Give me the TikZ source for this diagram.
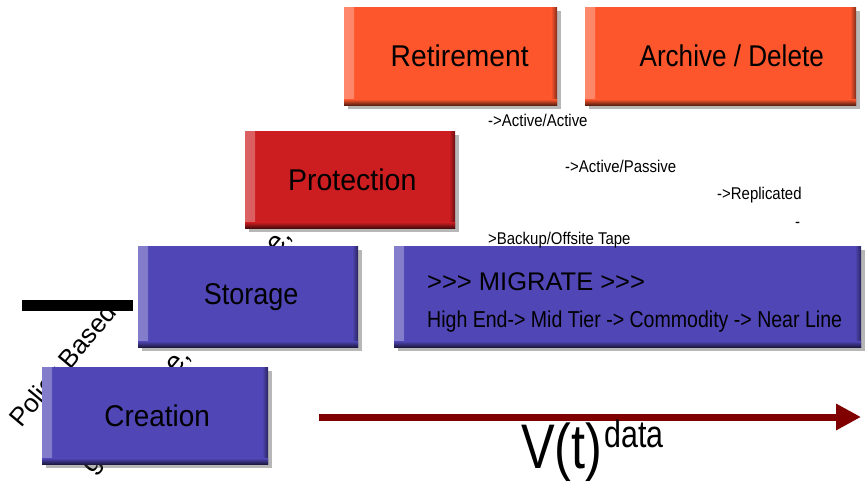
\documentclass[tikz,border=0pt]{standalone}
\usepackage{fontspec}
\setmainfont{Liberation Sans}[Ligatures=TeXOff]
\usetikzlibrary{arrows.meta,shadows}
\definecolor{orng}{HTML}{FD562D}
\definecolor{protred}{HTML}{CC1D20}
\definecolor{blu}{HTML}{5046B5}
\definecolor{arrred}{HTML}{800000}
\newcommand\cnd[2][0.9]{\scalebox{#1}[1]{#2}}
\begin{document}
\begin{tikzpicture}[x=1pt,y=-1pt,
  box/.style={fill=#1, anchor=north west, inner sep=0pt, draw=none,
    drop shadow={shadow xshift=4pt, shadow yshift=-4pt, opacity=0.4, fill=black!70},
    path picture={
      \shade[left color=#1!70!white, right color=#1]
        (path picture bounding box.north west) rectangle ([xshift=10pt]path picture bounding box.south west);
      \shade[left color=#1, right color=#1!50!black]
        ([xshift=-6pt]path picture bounding box.north east) rectangle (path picture bounding box.south east);
      \shade[top color=#1, bottom color=#1!35!black]
        ([yshift=6pt]path picture bounding box.south west) rectangle (path picture bounding box.south east);
    },
    font=\fontsize{30}{36}\selectfont},
  note/.style={anchor=base west, inner sep=0pt, font=\fontsize{17}{20}\selectfont},
  diag/.style={anchor=base west, inner sep=0pt, rotate=50, font=\fontsize{26}{30}\selectfont}
]
\useasboundingbox (0,0) rectangle (866,484);

% diagonal text (partly hidden behind the boxes)
\node[diag] (pol) at (21,429) {Policy Based};
\node[diag, font=\fontsize{28}{32}\selectfont] (gov) at (92,475) {governance, compliance,};

% black bar
\node[fill=black, anchor=north west, inner sep=0pt, minimum width=111pt, minimum height=11pt] (bar) at (22,300) {};

% boxes
\node[box=orng, minimum width=213pt, minimum height=98pt] (ret) at (344,7) {\hspace{18pt}\cnd[0.94]{Retirement}};
\node[box=orng, minimum width=271pt, minimum height=98pt] (arch) at (585,7) {\hspace{22pt}\cnd[0.87]{Archive / Delete}};
\node[box=protred, minimum width=210pt, minimum height=97pt] (prot) at (245,131) {\hspace{4pt}\cnd[0.95]{Protection}};
\node[box=blu, minimum width=220pt, minimum height=101pt] (stor) at (138,246) {\hspace{6pt}\cnd[0.9]{Storage}};
\node[box=blu, minimum width=467pt, minimum height=101pt] (mig) at (394,246) {};
\node[box=blu, minimum width=226pt, minimum height=97pt] (crea) at (42,367) {\hspace{4pt}\cnd[0.93]{Creation}};

% migrate texts
\node[anchor=base west, inner sep=0pt, font=\fontsize{25.5}{30}\selectfont] (migt) at (427,290) {>>> MIGRATE >>>};
\node[anchor=base west, inner sep=0pt, font=\fontsize{23}{28}\selectfont] (tiers) at (427,327) {\cnd[0.85]{High End-> Mid Tier -> Commodity -> Near Line}};

% protection notes
\node[note] (aa) at (488,126) {\cnd[0.88]{->Active/Active}};
\node[note] (ap) at (565,172) {\cnd[0.88]{->Active/Passive}};
\node[note] (rep) at (717,199) {\cnd[0.88]{->Replicated}};
\node[note] (dash) at (795,227) {\cnd[0.88]{-}};
\node[note] (bk) at (488,244) {\cnd[0.88]{>Backup/Offsite Tape}};

% time arrow
\coordinate (a0) at (319,417);
\coordinate (a1) at (861,417);
\draw[arrred, line width=7pt, -{Triangle[length=25pt,width=25pt]}] (a0) -- (a1);

% V(t)^data
\node[anchor=base west, inner sep=0pt, font=\fontsize{63}{70}\selectfont] (vt) at (521,468) {\cnd[0.8]{V(t)}};
\node[anchor=base west, inner sep=0pt, font=\fontsize{38}{42}\selectfont] (data) at (604,447) {\cnd[0.8]{data}};
\end{tikzpicture}
\end{document}
